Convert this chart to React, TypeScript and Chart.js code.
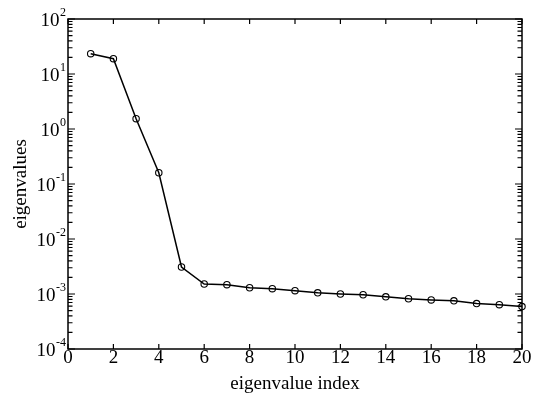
import React, { useEffect, useRef } from "react";
import { Chart, registerables } from "chart.js";

Chart.register(...registerables);

const indices = [1, 2, 3, 4, 5, 6, 7, 8, 9, 10, 11, 12, 13, 14, 15, 16, 17, 18, 19, 20];
const eigenvalues = [
  23.4, 19.0, 1.54, 0.16, 0.0031, 0.00152, 0.00148, 0.0013, 0.00125, 0.00115,
  0.00105, 0.001, 0.00097, 0.00089, 0.00082, 0.00078, 0.00075, 0.00067, 0.00064, 0.00059,
];
const yDecades = [-4, -3, -2, -1, 0, 1, 2];
const xTitle = "eigenvalue index";
const yTitle = "eigenvalues";

const FONT = '"Liberation Serif", "Times New Roman", serif';

const axesPlugin = {
  id: "customAxes",
  afterDraw(chart: any) {
    const ctx = chart.ctx as CanvasRenderingContext2D;
    const { left, right, top, bottom } = chart.chartArea;
    const xs = chart.scales.x;
    const ys = chart.scales.y;
    ctx.save();
    ctx.strokeStyle = "#000";
    ctx.fillStyle = "#000";
    ctx.lineWidth = 1.5;
    ctx.strokeRect(left, top, right - left, bottom - top);

    ctx.lineWidth = 1.2;
    // x ticks
    ctx.font = `19px ${FONT}`;
    ctx.textAlign = "center";
    ctx.textBaseline = "alphabetic";
    xs.ticks.forEach((t: any) => {
      const px = xs.getPixelForValue(t.value);
      ctx.beginPath();
      ctx.moveTo(px, bottom);
      ctx.lineTo(px, bottom - 5);
      ctx.moveTo(px, top);
      ctx.lineTo(px, top + 5);
      ctx.stroke();
      ctx.fillText(String(t.value), px, bottom + 14);
    });

    // y ticks
    yDecades.forEach((d) => {
      const py = ys.getPixelForValue(Math.pow(10, d));
      ctx.beginPath();
      ctx.moveTo(left, py);
      ctx.lineTo(left + 7, py);
      ctx.moveTo(right, py);
      ctx.lineTo(right - 7, py);
      ctx.stroke();
      if (d < 2) {
        for (let k = 2; k <= 9; k++) {
          const pm = ys.getPixelForValue(k * Math.pow(10, d));
          ctx.beginPath();
          ctx.moveTo(left, pm);
          ctx.lineTo(left + 4.5, pm);
          ctx.moveTo(right, pm);
          ctx.lineTo(right - 4.5, pm);
          ctx.stroke();
        }
      }
      // label
      const exp = String(d);
      ctx.font = `12px ${FONT}`;
      const ew = ctx.measureText(exp).width;
      const rightEdge = left - 2;
      ctx.textAlign = "left";
      ctx.fillText(exp, rightEdge - ew, py - 3);
      ctx.font = `19px ${FONT}`;
      ctx.textAlign = "right";
      ctx.fillText("10", rightEdge - ew - 0.5, py + 7);
    });

    // titles
    ctx.font = `19px ${FONT}`;
    ctx.textAlign = "center";
    ctx.textBaseline = "alphabetic";
    ctx.fillText(xTitle, (left + right) / 2, 389);
    ctx.save();
    ctx.translate(26, (top + bottom) / 2);
    ctx.rotate(-Math.PI / 2);
    ctx.fillText(yTitle, 0, 0);
    ctx.restore();
    ctx.restore();
  },
};

export default function App() {
  const ref = useRef<HTMLCanvasElement>(null);
  useEffect(() => {
    if (!ref.current) return;
    const chart = new Chart(ref.current, {
      type: "line",
      data: {
        datasets: [
          {
            data: indices.map((x, i) => ({ x, y: eigenvalues[i] })),
            borderColor: "#000",
            borderWidth: 1.5,
            pointRadius: 3.2,
            pointBorderWidth: 1.1,
            pointBorderColor: "#000",
            pointBackgroundColor: "rgba(255,255,255,0)",
            tension: 0,
            clip: false as any,
          },
        ],
      },
      options: {
        animation: false,
        responsive: false,
        maintainAspectRatio: false,
        layout: { padding: { left: 68, right: 19, top: 19, bottom: 51 } },
        plugins: { legend: { display: false }, tooltip: { enabled: false } },
        scales: {
          x: {
            type: "linear",
            min: 0,
            max: 20,
            ticks: { display: false, stepSize: 2 },
            grid: { display: false },
            border: { display: false },
            afterFit: (s: any) => {
              s.height = 0;
            },
          },
          y: {
            type: "logarithmic",
            min: 1e-4,
            max: 1e2,
            ticks: { display: false },
            grid: { display: false },
            border: { display: false },
            afterFit: (s: any) => {
              s.width = 0;
            },
          },
        },
      },
      plugins: [axesPlugin],
    });
    return () => chart.destroy();
  }, []);
  return (
    <div style={{ position: "fixed", left: 0, top: 0, width: 541, height: 400, background: "#fff" }}>
      <canvas ref={ref} width={541} height={400} style={{ width: 541, height: 400, display: "block" }} />
    </div>
  );
}
